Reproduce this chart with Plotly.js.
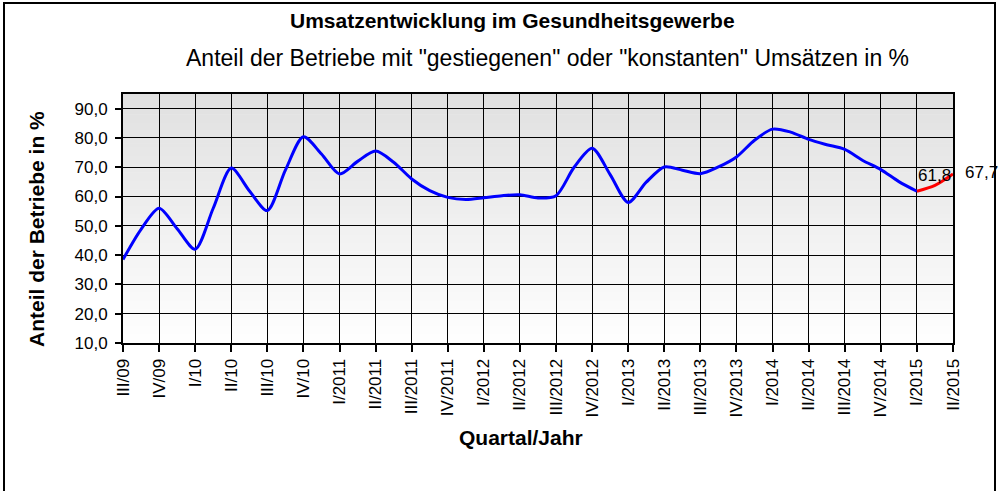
<!DOCTYPE html>
<html>
<head>
<meta charset="utf-8">
<script src="https://cdn.plot.ly/plotly-3.0.1.min.js"></script>
<style>html,body{margin:0;padding:0;background:#fff;}#chart{width:1000px;height:491px;}</style>
</head>
<body>
<div id="chart"></div>
<script>
// Quarter tick labels
var quarters = ['III/09','IV/09','I/10','II/10','III/10','IV/10','I/2011','II/2011','III/2011','IV/2011',
  'I/2012','II/2012','III/2012','IV/2012','I/2013','II/2013','III/2013','IV/2013','I/2014','II/2014',
  'III/2014','IV/2014','I/2015','II/2015'];
// Values every half quarter from III/09 to I/2015 (blue line)
var blueValues = [38.5, 48.8, 56.0, 49.0, 42.0, 56.0, 69.7, 62.0, 55.2, 69.0,
  80.4, 74.5, 67.7, 72.0, 75.5, 71.7, 66.0, 62.0, 59.7, 59.0,
  59.6, 60.3, 60.6, 59.5, 60.3, 70.0, 76.5, 67.5, 58.0, 64.9,
  70.1, 69.0, 67.8, 70.1, 73.5, 79.2, 83.0, 82.0, 79.5, 77.7,
  76.1, 72.3, 69.2, 65.1, 61.8];
// Values every half quarter from I/2015 to II/2015 (red line)
var redValues = [61.8, 63.8, 67.7];
var redLabels = ['61,8', '', '67,7'];
var redStartIndex = 22;

var step = 0.5;
var blueX = blueValues.map(function(v, i){ return i * step; });
var redX = redValues.map(function(v, i){ return redStartIndex + i * step; });
var tickIdx = quarters.map(function(q, i){ return i; });

var font = 'Arial, Liberation Sans, sans-serif';

var traces = [
  {x: blueX, y: blueValues, type: 'scatter', mode: 'lines',
   line: {color: '#0000FF', width: 3, shape: 'spline', smoothing: 0.8}, hoverinfo: 'y', showlegend: false},
  {x: redX, y: redValues, type: 'scatter', mode: 'lines',
   line: {color: '#FF0000', width: 3, shape: 'spline', smoothing: 0.8}, hoverinfo: 'y', showlegend: false}
];

// gradient background bands
var shapes = [];
var bands = 60;
for (var b = 0; b < bands; b++) {
  var t = b / bands;
  var c = Math.round(224 + (255 - 224) * t);
  shapes.push({type: 'rect', xref: 'x domain', yref: 'y domain', x0: 0, x1: 1,
    y0: 1 - (b + 1) / bands, y1: 1 - b / bands + 0.002, fillcolor: 'rgb(' + c + ',' + c + ',' + c + ')',
    line: {width: 0}, layer: 'below'});
}
// outer frame
var L = 123, R = 47, T = 94, B = 148, W = 1000, H = 491;
var pw = W - L - R, ph = H - T - B;
function px(xp){ return (xp - L) / pw; }
function py(yp){ return ((H - B) - yp) / ph; }
shapes.push({type: 'rect', xref: 'paper', yref: 'paper',
  x0: px(4), x1: px(995), y0: py(H + 20), y1: py(3),
  line: {color: '#000', width: 2}, fillcolor: 'rgba(0,0,0,0)', layer: 'above'});

var annotations = [
  {text: '<b>Umsatzentwicklung im Gesundheitsgewerbe</b>', xref: 'paper', yref: 'paper',
   x: px(512), y: py(20), xanchor: 'center', yanchor: 'middle', showarrow: false,
   font: {family: font, size: 21, color: '#000'}},
  {text: 'Anteil der Betriebe mit "gestiegenen" oder "konstanten" Umsätzen in %', xref: 'paper', yref: 'paper',
   x: px(547), y: py(58), xanchor: 'center', yanchor: 'middle', showarrow: false,
   font: {family: font, size: 23, color: '#000'}},
  {text: '<b>Anteil der Betriebe in %</b>', xref: 'paper', yref: 'paper', textangle: -90,
   x: px(36), y: py(229), xanchor: 'center', yanchor: 'middle', showarrow: false,
   font: {family: font, size: 21, color: '#000'}},
  {text: '<b>Quartal/Jahr</b>', xref: 'paper', yref: 'paper',
   x: px(521), y: py(437), xanchor: 'center', yanchor: 'middle', showarrow: false,
   font: {family: font, size: 21, color: '#000'}}
];
// data labels for the red segment
redLabels.forEach(function(lbl, i){
  if (!lbl) return;
  var last = (i === redLabels.length - 1);
  annotations.push({text: lbl, x: redX[i], y: redValues[i], xref: 'x', yref: 'y', showarrow: false,
    xanchor: 'left', yanchor: last ? 'middle' : 'bottom', xshift: last ? 10 : -1, yshift: last ? 1 : 4,
    font: {family: font, size: 17, color: '#000'}});
});

var layout = {
  width: W, height: H,
  margin: {l: L, r: R, t: T, b: B},
  paper_bgcolor: '#fff', plot_bgcolor: 'rgba(0,0,0,0)',
  separators: ',.',
  font: {family: font, color: '#000'},
  showlegend: false,
  xaxis: {
    range: [0, quarters.length - 1], tickvals: tickIdx, ticktext: quarters, tickangle: -90,
    tickfont: {family: font, size: 17, color: '#000'},
    showgrid: true, gridcolor: '#000', gridwidth: 1,
    ticks: 'outside', ticklen: 7, tickcolor: '#000', tickwidth: 2,
    showline: true, linecolor: '#000', linewidth: 2, mirror: true, zeroline: false
  },
  yaxis: {
    range: [10, 95], tickvals: [10,20,30,40,50,60,70,80,90], tickformat: '.1f',
    tickfont: {family: font, size: 17, color: '#000'},
    showgrid: true, gridcolor: '#000', gridwidth: 1,
    ticks: 'outside', ticklen: 6, tickcolor: '#000', tickwidth: 2, ticklabelstandoff: 4,
    showline: true, linecolor: '#000', linewidth: 2, mirror: true, zeroline: false
  },
  shapes: shapes,
  annotations: annotations
};

Plotly.newPlot('chart', traces, layout, {displayModeBar: false, staticPlot: true});
</script>
</body>
</html>
